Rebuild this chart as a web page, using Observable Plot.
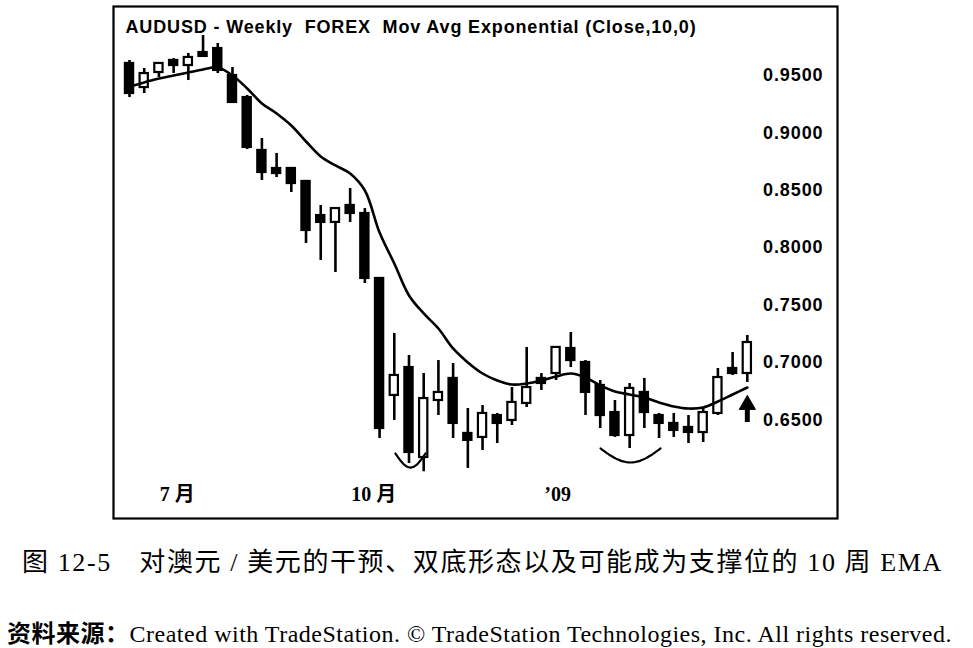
<!DOCTYPE html>
<html>
<head>
<meta charset="utf-8">
<script src="https://cdn.jsdelivr.net/npm/d3@7"></script>
<script src="https://cdn.jsdelivr.net/npm/@observablehq/plot@0.6"></script>
<style>
  html, body { margin: 0; padding: 0; background: #fff; }
  #wrap { position: relative; width: 973px; height: 648px; }
  #chart { position: absolute; left: 0; top: 0; }
  .cap1 { position: absolute; left: 22px; top: 547px; line-height: 32px; font-family: "Liberation Serif", "Noto Sans CJK SC", serif; font-size: 26px; color: #000; white-space: nowrap; letter-spacing: 1.6px; }
  .cap2 { position: absolute; left: 7px; top: 618px; line-height: 28px; font-family: "Liberation Serif", "Noto Sans CJK SC", serif; font-size: 24px; color: #000; white-space: nowrap; letter-spacing: 0.5px; }
  .cap2 .zh { font-family: "Noto Sans CJK SC", sans-serif; font-weight: bold; }
</style>
</head>
<body>
<div id="wrap">
  <div id="chart"></div>
  <div class="cap1">图 12-5　对澳元 / 美元的干预、双底形态以及可能成为支撑位的 10 周 EMA</div>
  <div class="cap2"><span class="zh">资料来源：</span>Created with TradeStation. © TradeStation Technologies, Inc. All rights reserved.</div>
</div>
<script>
// ---- data (weekly AUDUSD candles) ----
const open  = [0.9605,0.9395,0.9526,0.9631,0.9587,0.9700,0.9735,0.9500,0.9308,0.8847,
               0.8690,0.8690,0.8577,0.8280,0.8220,0.8368,0.8298,0.7732,0.6713,0.6956,
               0.6172,0.6669,0.6861,0.6382,0.6347,0.6538,0.6495,0.6643,0.6861,0.6904,
               0.7122,0.7000,0.6800,0.6564,0.6364,0.6739,0.6538,0.6469,0.6434,0.6390,
               0.6556,0.6948,0.6904];
const high  = [0.9631,0.9561,0.9613,0.9648,0.9692,0.9848,0.9779,0.9570,0.9326,0.8951,
               0.8821,0.8699,0.8585,0.8368,0.8350,0.8516,0.8341,0.7732,0.7253,0.7061,
               0.6904,0.7017,0.6991,0.6599,0.6625,0.6556,0.6782,0.7131,0.6904,0.7131,
               0.7261,0.7017,0.6843,0.6669,0.6817,0.6861,0.6556,0.6556,0.6538,0.6608,
               0.6948,0.7087,0.7235];
const low   = [0.9308,0.9343,0.9483,0.9517,0.9456,0.9657,0.9517,0.9265,0.8855,0.8585,
               0.8611,0.8481,0.8037,0.7889,0.7784,0.8220,0.7688,0.6338,0.6495,0.6120,
               0.6048,0.6538,0.6338,0.6077,0.6233,0.6294,0.6451,0.6608,0.6756,0.6843,
               0.6956,0.6538,0.6425,0.6347,0.6251,0.6425,0.6338,0.6347,0.6294,0.6303,
               0.6538,0.6887,0.6826];
const close = [0.9343,0.9517,0.9605,0.9587,0.9657,0.9666,0.9544,0.9265,0.8873,0.8655,
               0.8646,0.8559,0.8150,0.8220,0.8341,0.8298,0.7732,0.6425,0.6887,0.6216,
               0.6686,0.6739,0.6469,0.6321,0.6556,0.6469,0.6652,0.6782,0.6817,0.7131,
               0.7017,0.6739,0.6538,0.6364,0.6774,0.6564,0.6469,0.6408,0.6390,0.6564,
               0.6869,0.6904,0.7174];
// 10-week exponential moving average, as drawn
const ema   = [0.9404,0.9439,0.9474,0.9500,0.9526,0.9552,0.9570,0.9500,0.9387,0.9256,
               0.9169,0.9064,0.8925,0.8794,0.8716,0.8646,0.8498,0.8132,0.7862,0.7584,
               0.7427,0.7296,0.7122,0.7000,0.6904,0.6843,0.6808,0.6817,0.6843,0.6878,
               0.6904,0.6869,0.6800,0.6747,0.6721,0.6695,0.6652,0.6617,0.6599,0.6608,
               0.6660,0.6721,0.6782];
// tick labels
const yTicks = [0.95, 0.90, 0.85, 0.80, 0.75, 0.70, 0.65];
const monthLabels = ["7 月", "10 月", "’09"];
const monthWeeks  = [4.25, 17.6, 30.1];
const title = "AUDUSD - Weekly  FOREX  Mov Avg Exponential (Close,10,0)";
// annotations: double-bottom arcs (week range, rim price, bottom price) and the up arrow
const arcFrom = [19.08, 33.02];
const arcTo   = [21.12, 37.10];
const arcRim  = [0.6207, 0.6251];
const arcLow  = [0.6085, 0.6129];
const arrowWeek = [43];
const arrowTail = [0.6477];
const arrowHead = [0.6632];

// ---- build tables ----
const candles = open.map((o, k) => ({ w: k + 1, o, h: high[k], l: low[k], c: close[k] }));
const emaRows = ema.map((v, k) => ({ w: k + 1, v }));
const arcRows = [];
arcFrom.forEach((a, j) => {
  for (let s = 0; s <= 24; s++) {
    const t = s / 24;
    arcRows.push({ id: j, w: a + (arcTo[j] - a) * t, v: arcRim[j] - (arcRim[j] - arcLow[j]) * Math.sin(Math.PI * t) });
  }
});
const arrows = arrowWeek.map((w, k) => ({ w, t: arrowTail[k], h: arrowHead[k] }));
const months = monthLabels.map((t, k) => ({ t, w: monthWeeks[k] }));

const font = "'Liberation Sans', Arial, sans-serif";
const chart = Plot.plot({
  width: 973,
  height: 524,
  marginLeft: 113,
  marginRight: 136,
  marginTop: 6,
  marginBottom: 6,
  style: { fontFamily: font, background: "#fff", color: "#000" },
  x: { type: "linear", domain: [-0.088, 49.13], axis: null },
  y: { type: "linear", domain: [0.5641, 1.0101], axis: null },
  marks: [
    Plot.frame({ stroke: "#000", strokeWidth: 2.2 }),
    Plot.ruleX(candles, { x: "w", y1: "l", y2: "h", stroke: "#000", strokeWidth: 2.6 }),
    Plot.rect(candles, {
      x1: d => d.w - 0.28, x2: d => d.w + 0.28,
      y1: d => Math.min(d.o, d.c), y2: d => Math.max(d.o, d.c),
      fill: d => d.c < d.o ? "#000" : "#fff", stroke: "#000", strokeWidth: 2.2
    }),
    Plot.line(emaRows, { x: "w", y: "v", stroke: "#000", strokeWidth: 2.6, curve: "catmull-rom" }),
    Plot.line(arcRows, { x: "w", y: "v", z: "id", stroke: "#000", strokeWidth: 2.2, curve: "catmull-rom" }),
    Plot.ruleX(arrows, { x: "w", y1: "t", y2: "h", stroke: "#000", strokeWidth: 5 }),
    Plot.dot(arrows, { x: "w", y: "h", symbol: "triangle", r: 6, fill: "#000", stroke: "#000", strokeWidth: 1 }),
    Plot.text(yTicks, {
      y: d => d, text: d => d.toFixed(4), frameAnchor: "right", textAnchor: "end", dx: -14,
      fontSize: 18, fontWeight: "bold", fill: "#000", fontFamily: font
    }),
    Plot.text(months, {
      x: "w", text: "t", frameAnchor: "bottom", dy: -24, lineAnchor: "middle",
      fontSize: 20, fontWeight: "bold", fill: "#000", fontFamily: "'Liberation Serif', 'Noto Sans CJK SC', serif"
    }),
    Plot.text([title], {
      text: d => d, frameAnchor: "top-left", textAnchor: "start", lineAnchor: "middle", dx: 12, dy: 20.5,
      fontSize: 18, fontWeight: "bold", fill: "#000", fontFamily: font
    })
  ]
});
// letter spacing for the heavier, wider reference type
chart.querySelectorAll("text").forEach(t => {
  if (t.textContent === title) t.style.letterSpacing = "0.85px";
  else if (/^0\.\d{4}$/.test(t.textContent)) t.style.letterSpacing = "0.9px";
});
document.getElementById("chart").append(chart);
</script>
</body>
</html>
